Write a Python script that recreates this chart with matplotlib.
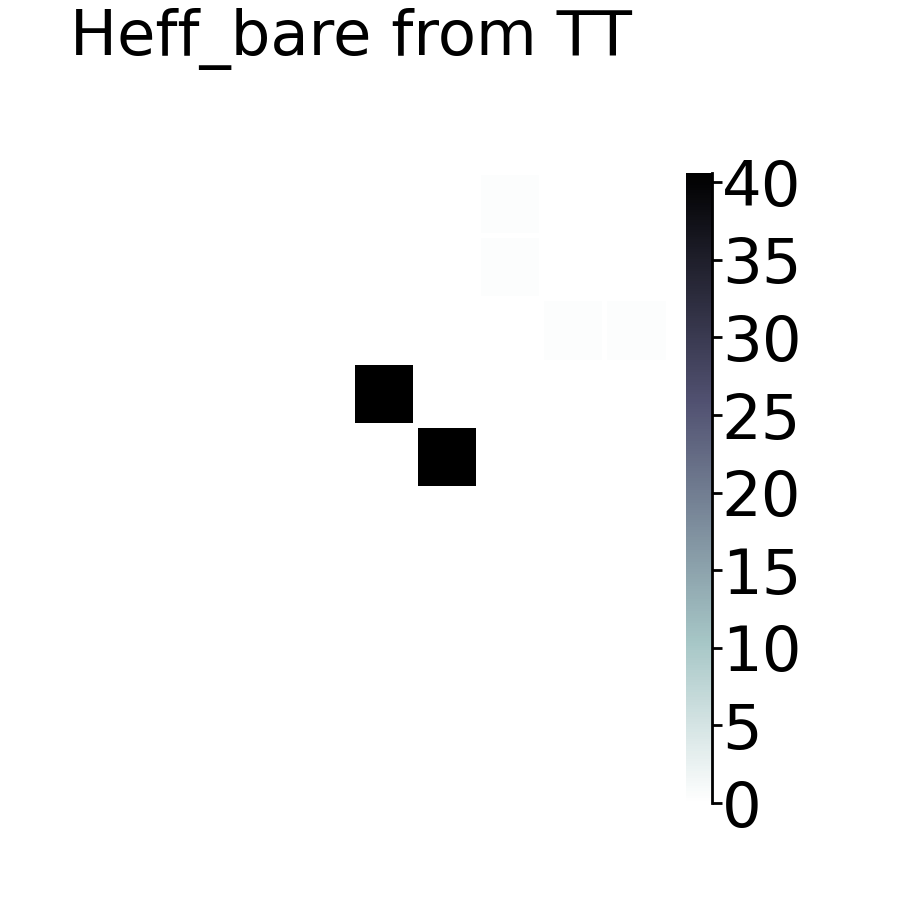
import numpy as np
import matplotlib
matplotlib.use("Agg")
import matplotlib.pyplot as plt

n = 10
rows = [3, 4, 0, 1, 2, 2]
cols = [5, 6, 7, 7, 8, 9]
vals = [40.6, 40.6, 0.4, 0.4, 0.4, 0.4]
cbar_ticks = [0, 5, 10, 15, 20, 25, 30, 35, 40]
title = "Heff_bare from TT"

H = np.zeros((n, n))
for r, c, v in zip(rows, cols, vals):
    H[r, c] = v

fig = plt.figure(figsize=(8.99, 8.99), dpi=100)
W = 899.0
ax = fig.add_axes([35.5 / W, 1 - 804 / W, 632 / W, 632 / W])
cax = fig.add_axes([686 / W, 1 - 803 / W, 26 / W, 630 / W])

mesh = ax.pcolormesh(H, cmap="bone_r", vmin=0, vmax=max(vals),
                     edgecolors="white", linewidth=2.2)
ax.set_xlim(0, n)
ax.set_ylim(n, 0)
ax.set_axis_off()
ax.set_title(title, fontsize=45, pad=84)

cb = fig.colorbar(mesh, cax=cax, ticks=cbar_ticks)
cb.outline.set_visible(False)
cax.spines['right'].set_visible(True)
cax.spines['right'].set_linewidth(2)
cax.tick_params(labelsize=45, width=2, length=7, pad=0)

fig.savefig("out.png", dpi=100)
